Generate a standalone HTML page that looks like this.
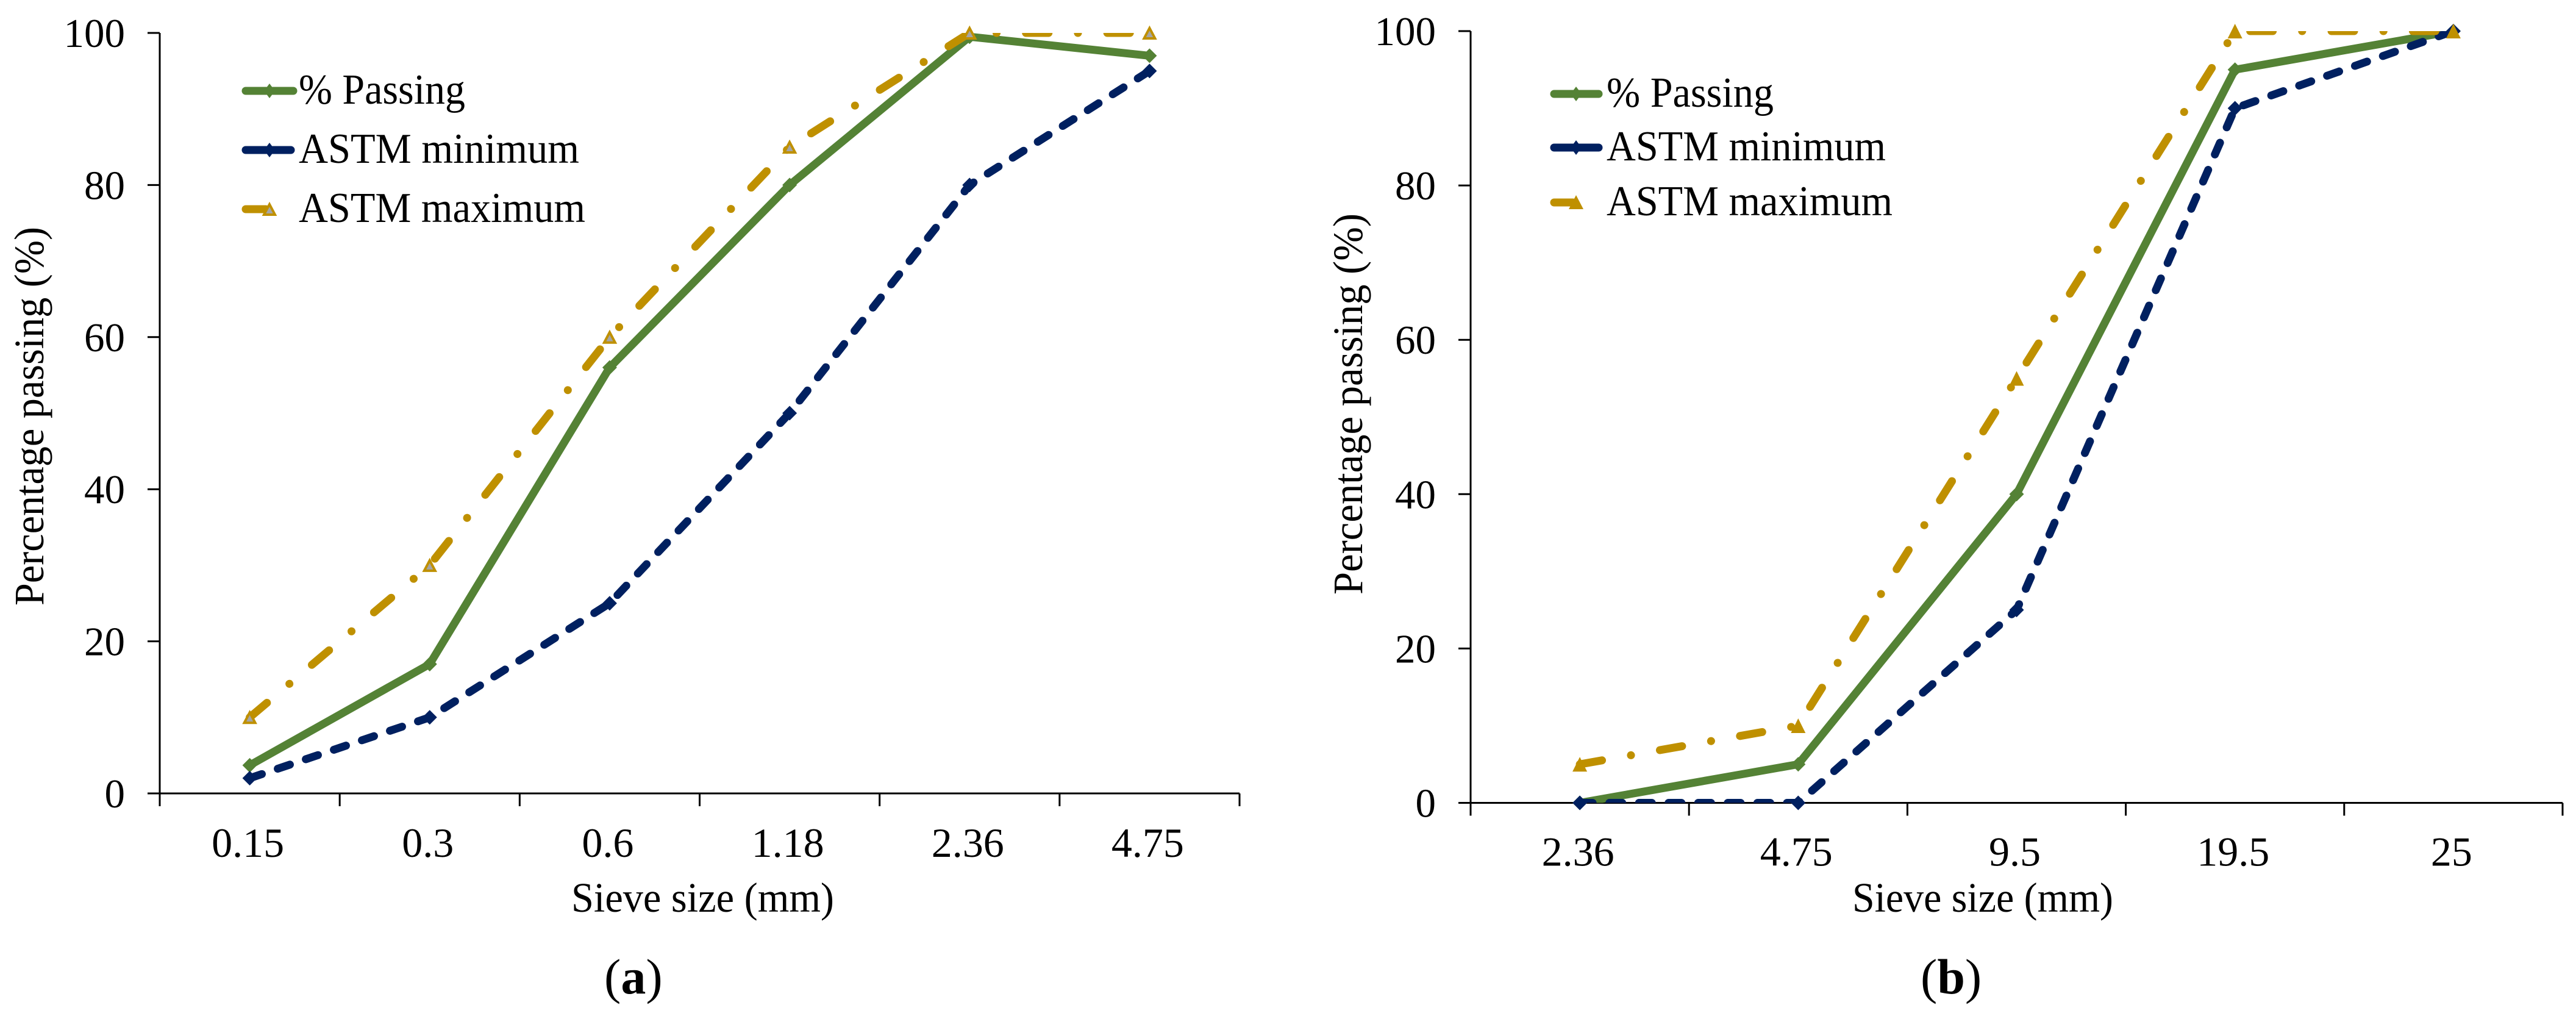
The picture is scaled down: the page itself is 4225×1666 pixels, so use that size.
<!DOCTYPE html>
<html lang="en">
<head>
<meta charset="utf-8">
<title>Sieve size gradation charts</title>
<style>
html,body{margin:0;padding:0;background:#fff;width:4225px;height:1666px;overflow:hidden}
svg{display:block}
text{font-family:"Liberation Serif","Times New Roman",serif;fill:#000}
</style>
</head>
<body>
<svg id="figure" xmlns="http://www.w3.org/2000/svg" width="4225" height="1666" viewBox="0 0 4225 1666">
  <rect x="0" y="0" width="4225" height="1666" fill="#fff"/>
  <defs>
    <clipPath id="clip-a"><rect x="262" y="54" width="1771" height="1247"/></clipPath>
    <clipPath id="clip-b"><rect x="2412" y="51" width="1791" height="1265.5"/></clipPath>
  </defs>

  <g id="chart-a"></g>
  <g id="chart-b"></g>

  <!-- chart (a) static labels -->
  <text x="937" y="1495" font-size="69" textLength="431" lengthAdjust="spacingAndGlyphs">Sieve size (mm)</text>
  <text transform="translate(71,993) rotate(-90)" font-size="69" textLength="621" lengthAdjust="spacingAndGlyphs">Percentage passing (%)</text>
  <text x="991" y="1629" font-size="82">(<tspan font-weight="bold">a</tspan>)</text>

  <g>
    <g>
      <line x1="403" y1="149" x2="481" y2="149" stroke="#548235" stroke-width="13" stroke-linecap="round"/>
      <polygon points="442,137 451,149 442,161 433,149" fill="#548235"/>
      <text x="490" y="170" font-size="70" textLength="273" lengthAdjust="spacingAndGlyphs">% Passing</text>
    </g>
    <g>
      <line x1="403" y1="246" x2="477" y2="246" stroke="#002060" stroke-width="13" stroke-linecap="round"/>
      <polygon points="442,234 451,246 442,258 433,246" fill="#002060"/>
      <text x="490" y="267" font-size="70" textLength="460" lengthAdjust="spacingAndGlyphs">ASTM minimum</text>
    </g>
    <g>
      <line x1="403" y1="343" x2="436" y2="343" stroke="#BF9000" stroke-width="13" stroke-linecap="round"/>
      <polygon points="442,335 451,352 433,352" fill="#A5A5A5" stroke="#BF9000" stroke-width="4"/>
      <text x="490" y="364" font-size="70" textLength="470" lengthAdjust="spacingAndGlyphs">ASTM maximum</text>
    </g>
  </g>

  <!-- chart (b) static labels -->
  <text x="3038" y="1495" font-size="69" textLength="428" lengthAdjust="spacingAndGlyphs">Sieve size (mm)</text>
  <text transform="translate(2234,975) rotate(-90)" font-size="69" textLength="625" lengthAdjust="spacingAndGlyphs">Percentage passing (%)</text>
  <text x="3150" y="1629" font-size="82">(<tspan font-weight="bold">b</tspan>)</text>

  <g>
    <g>
      <line x1="2549" y1="154" x2="2622" y2="154" stroke="#548235" stroke-width="13" stroke-linecap="round"/>
      <polygon points="2585,142 2594,154 2585,166 2576,154" fill="#548235"/>
      <text x="2635" y="175" font-size="70" textLength="274" lengthAdjust="spacingAndGlyphs">% Passing</text>
    </g>
    <g>
      <line x1="2549" y1="242" x2="2622" y2="242" stroke="#002060" stroke-width="13" stroke-linecap="round"/>
      <polygon points="2585,230 2594,242 2585,254 2576,242" fill="#002060"/>
      <text x="2635" y="263" font-size="70" textLength="458" lengthAdjust="spacingAndGlyphs">ASTM minimum</text>
    </g>
    <g>
      <line x1="2549" y1="332" x2="2580" y2="332" stroke="#BF9000" stroke-width="13" stroke-linecap="round"/>
      <polygon points="2585,320 2597,343 2573,343" fill="#BF9000"/>
      <text x="2635" y="353" font-size="70" textLength="469" lengthAdjust="spacingAndGlyphs">ASTM maximum</text>
    </g>
  </g>
</svg>

<script>
// Chart (a): fine aggregate
const categoriesA = ["0.15", "0.3", "0.6", "1.18", "2.36", "4.75"];
const passingA = [3.7, 17, 56, 80, 99.5, 97];
const minimumA = [2, 10, 25, 50, 80, 95];
const maximumA = [10, 30, 60, 85, 100, 100];

// Chart (b): coarse aggregate
const categoriesB = ["2.36", "4.75", "9.5", "19.5", "25"];
const passingB = [0, 5, 40, 95, 100];
const minimumB = [0, 0, 25, 90, 100];
const maximumB = [5, 10, 55, 100, 100];

// Shared y-axis ticks
const yTickLabels = [0, 20, 40, 60, 80, 100];

const NS = "http://www.w3.org/2000/svg";

function make(parent, tag, attrs) {
  const el = document.createElementNS(NS, tag);
  for (const key in attrs) {
    el.setAttribute(key, attrs[key]);
  }
  parent.appendChild(el);
  return el;
}

function drawChart(cfg, categories, passing, minimum, maximum) {
  const root = document.getElementById(cfg.id);
  const catWidth = (cfg.right - cfg.left) / categories.length;
  const xAt = function (i) { return cfg.left + catWidth * (i + 0.5); };
  const yAt = function (v) { return cfg.bottom - (v / 100) * (cfg.bottom - cfg.top); };
  const suffix = cfg.suffix;

  // axes
  const yAxis = make(root, "line", { x1: cfg.left, y1: cfg.top, x2: cfg.left, y2: cfg.bottom + 21, stroke: "#000", "stroke-width": 3 });
  
  
  const xAxis = make(root, "line", { x1: cfg.left - 20, y1: cfg.bottom, x2: cfg.right, y2: cfg.bottom, stroke: "#000", "stroke-width": 3 });
  
  

  // y ticks and labels
  yTickLabels.forEach(function (value) {
    const y = yAt(value);
    const tick = make(root, "line", { x1: cfg.left - 20, y1: y, x2: cfg.left, y2: y, stroke: "#000", "stroke-width": 3 });
    
    
    const label = make(root, "text", { x: cfg.left - 57, y: y + 23, "font-size": 67, "text-anchor": "end" });
    
    
    label.textContent = String(value);
  });

  // x ticks and labels
  for (let i = 0; i <= categories.length; i++) {
    const x = cfg.left + catWidth * i;
    const tick = make(root, "line", { x1: x, y1: cfg.bottom, x2: x, y2: cfg.bottom + 21, stroke: "#000", "stroke-width": 3 });
    
    
  }
  categories.forEach(function (name, i) {
    const label = make(root, "text", { x: xAt(i) - 3, y: cfg.bottom + cfg.labelDrop, "font-size": 68, "text-anchor": "middle" });
    
    
    label.textContent = name;
  });

  const pointsOf = function (values) {
    return values.map(function (v, i) { return xAt(i) + "," + yAt(v); }).join(" ");
  };

  // series: passing
  const passLine = make(root, "polyline", { points: pointsOf(passing), fill: "none", stroke: "#548235", "stroke-width": 13, "stroke-linejoin": "round", "clip-path": "url(#" + cfg.clip + ")" });
  
  
  passing.forEach(function (v, i) {
    const x = xAt(i), y = yAt(v);
    const m = make(root, "polygon", { points: x + "," + (y - 12) + " " + (x + 12) + "," + y + " " + x + "," + (y + 12) + " " + (x - 12) + "," + y, fill: "#548235" });
    
    
  });

  // series: minimum
  const minLine = make(root, "polyline", { points: pointsOf(minimum), fill: "none", stroke: "#002060", "stroke-width": 13, "stroke-linecap": "round", "stroke-linejoin": "round", "stroke-dasharray": "21 27.55", "clip-path": "url(#" + cfg.clip + ")" });
  
  
  minimum.forEach(function (v, i) {
    const x = xAt(i), y = yAt(v);
    const m = make(root, "polygon", { points: x + "," + (y - 12) + " " + (x + 12) + "," + y + " " + x + "," + (y + 12) + " " + (x - 12) + "," + y, fill: "#002060" });
    
    
  });

  // series: maximum
  const maxLine = make(root, "polyline", { points: pointsOf(maximum), fill: "none", stroke: "#BF9000", "stroke-width": 13, "stroke-linecap": "round", "stroke-linejoin": "round", "stroke-dasharray": "37 48.15 0.1 48.15", "clip-path": "url(#" + cfg.clip + ")" });
  
  
  maximum.forEach(function (v, i) {
    const x = xAt(i), y = yAt(v);
    const m = make(root, "polygon", { points: x + "," + (y - cfg.triTop) + " " + (x + cfg.triHalf) + "," + (y + cfg.triBottom) + " " + (x - cfg.triHalf) + "," + (y + cfg.triBottom), fill: cfg.triFill, stroke: "#BF9000", "stroke-width": cfg.triStroke });
    
    
  });
}

drawChart(
  { id: "chart-a", suffix: "a", clip: "clip-a", left: 262, right: 2033, top: 54, bottom: 1301, labelDrop: 104, triTop: 8, triBottom: 9, triHalf: 9, triFill: "#A5A5A5", triStroke: 4 },
  categoriesA, passingA, minimumA, maximumA
);
drawChart(
  { id: "chart-b", suffix: "b", clip: "clip-b", left: 2412, right: 4203, top: 51, bottom: 1316.5, labelDrop: 103, triTop: 12, triBottom: 12, triHalf: 12, triFill: "#BF9000", triStroke: 0 },
  categoriesB, passingB, minimumB, maximumB
);
</script>
</body>
</html>
